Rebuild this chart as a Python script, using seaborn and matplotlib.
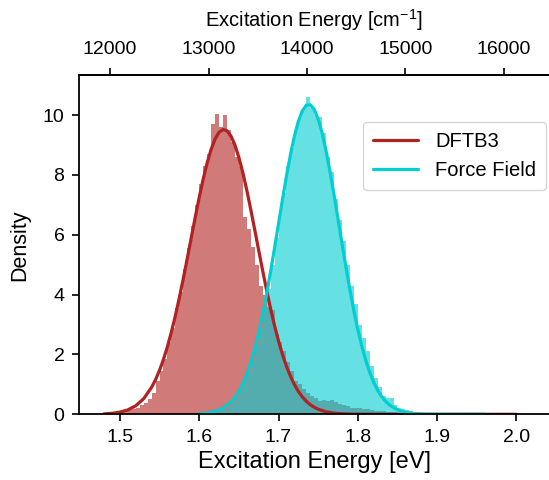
import numpy as np
import pandas as pd
import matplotlib
matplotlib.use("Agg")
import matplotlib.pyplot as plt
import seaborn as sns

sns.set_theme(style="ticks")
plt.rcParams["font.family"] = ["Liberation Sans", "DejaVu Sans"]
plt.rcParams["mathtext.fontset"] = "custom"
plt.rcParams["mathtext.rm"] = "Liberation Sans"
for key in ["text.color", "axes.labelcolor", "xtick.color", "ytick.color",
            "axes.edgecolor"]:
    plt.rcParams[key] = "black"

# ---------------- data ----------------
labels = ["DFTB3", "Force Field"]
bin_width = 0.005

dftb3_bin_start = 1.475
dftb3_hist = [0.02, 0.02, 0.04, 0.05, 0.06, 0.08, 0.10, 0.13, 0.17, 0.22,
              0.30, 0.38, 0.50, 0.72, 1.10, 1.45, 1.85, 2.40, 2.90, 3.55,
              4.10, 4.85, 5.55, 6.30, 7.00, 7.70, 8.30, 8.70, 9.70, 10.05,
              9.60, 10.00, 9.50, 9.10, 8.60, 8.30, 6.60, 6.20, 5.60, 5.00,
              4.30, 4.00, 3.60, 3.50, 2.70, 2.40, 2.10, 1.75, 1.45, 1.10,
              1.00, 0.85, 0.72, 0.60, 0.55, 0.45, 0.47, 0.45, 0.48, 0.40,
              0.35, 0.30, 0.28, 0.22, 0.20, 0.20, 0.18, 0.17, 0.15, 0.12,
              0.10, 0.10, 0.09, 0.08, 0.07, 0.06, 0.05, 0.05, 0.04, 0.03,
              0.03, 0.02, 0.02, 0.01, 0.01, 0.01, 0.0, 0.01, 0.0, 0.0,
              0.0, 0.0, 0.0, 0.0, 0.0, 0.01, 0.0, 0.0, 0.0, 0.0,
              0.0, 0.0, 0.0, 0.0, 0.01]

ff_bin_start = 1.600
ff_hist = [0.01, 0.02, 0.03, 0.05, 0.07, 0.10, 0.16, 0.25, 0.38, 0.55,
           0.80, 1.10, 1.40, 1.80, 2.30, 2.85, 3.60, 4.20, 5.00, 5.90,
           6.70, 7.40, 8.30, 8.90, 9.50, 9.90, 10.20, 10.60, 10.25, 10.00,
           9.95, 9.40, 8.60, 8.10, 7.20, 6.50, 5.80, 5.00, 4.30, 3.70,
           3.00, 2.55, 2.10, 1.60, 1.20, 0.90, 0.62, 0.55, 0.55, 0.30,
           0.22, 0.18, 0.13, 0.10, 0.08, 0.07, 0.05, 0.05, 0.03, 0.03,
           0.02, 0.02, 0.01, 0.01, 0.01, 0.0, 0.01, 0.0, 0.0, 0.0,
           0.01]

dftb3_fit_x = [1.48, 1.49, 1.50, 1.51, 1.52, 1.53, 1.54, 1.545, 1.55, 1.555,
               1.56, 1.565, 1.57, 1.575, 1.58, 1.585, 1.59, 1.595, 1.60, 1.605,
               1.61, 1.615, 1.62, 1.625, 1.63, 1.635, 1.64, 1.645, 1.65, 1.655,
               1.66, 1.665, 1.67, 1.675, 1.68, 1.685, 1.69, 1.695, 1.70, 1.705,
               1.71, 1.715, 1.72, 1.725, 1.73, 1.735, 1.74, 1.745, 1.75, 1.76,
               1.77, 1.78, 1.79, 1.80, 1.85, 1.90, 1.95, 2.00]
dftb3_fit_y = [0.014, 0.033, 0.072, 0.147, 0.285, 0.521, 0.900, 1.158, 1.469, 1.837,
               2.265, 2.753, 3.299, 3.896, 4.538, 5.210, 5.898, 6.582, 7.241, 7.853,
               8.396, 8.851, 9.197, 9.423, 9.517, 9.477, 9.303, 9.003, 8.590, 8.080,
               7.493, 6.849, 6.173, 5.485, 4.805, 4.149, 3.532, 2.965, 2.453, 2.001,
               1.609, 1.276, 0.997, 0.768, 0.584, 0.437, 0.323, 0.235, 0.169, 0.083,
               0.039, 0.017, 0.007, 0.003, 0.0, 0.0, 0.0, 0.0]

ff_fit_x = [1.60, 1.61, 1.62, 1.63, 1.64, 1.645, 1.65, 1.655, 1.66, 1.665,
            1.67, 1.675, 1.68, 1.685, 1.69, 1.695, 1.70, 1.705, 1.71, 1.715,
            1.72, 1.725, 1.73, 1.735, 1.74, 1.745, 1.75, 1.755, 1.76, 1.765,
            1.77, 1.775, 1.78, 1.785, 1.79, 1.795, 1.80, 1.805, 1.81, 1.815,
            1.82, 1.825, 1.83, 1.835, 1.84, 1.85, 1.86, 1.87, 1.88, 1.90,
            1.93, 1.96]
ff_fit_y = [0.017, 0.041, 0.094, 0.203, 0.406, 0.560, 0.760, 1.014, 1.330, 1.717,
            2.178, 2.715, 3.331, 4.017, 4.762, 5.553, 6.365, 7.174, 7.952, 8.667,
            9.288, 9.786, 10.138, 10.329, 10.346, 10.190, 9.869, 9.398, 8.799, 8.101,
            7.334, 6.528, 5.715, 4.918, 4.162, 3.462, 2.832, 2.279, 1.803, 1.402,
            1.072, 0.806, 0.597, 0.433, 0.310, 0.151, 0.068, 0.029, 0.011, 0.0015,
            0.0, 0.0]

top_ticks_cm = [12000, 13000, 14000, 15000, 16000]
y_ticks = [0, 2, 4, 6, 8, 10]
colors = ["firebrick", "darkturquoise"]
EV_TO_CM = 8065.54

# ---------------- figure ----------------
fig = plt.figure(figsize=(5.49, 4.80), dpi=100)
ax = fig.add_axes([79 / 549, 65.7 / 480, 470 / 549, 339 / 480])

for start, heights, col in [(dftb3_bin_start, dftb3_hist, colors[0]),
                            (ff_bin_start, ff_hist, colors[1])]:
    n = len(heights)
    centers = start + bin_width * (np.arange(n) + 0.5)
    df = pd.DataFrame({"x": centers, "w": heights})
    sns.histplot(data=df, x="x", weights="w", binwidth=bin_width,
                 binrange=(start, start + n * bin_width), stat="count",
                 color=col, alpha=0.6, linewidth=0, ax=ax)

sns.lineplot(x=dftb3_fit_x, y=dftb3_fit_y, color=colors[0], lw=2.3,
             label=labels[0], ax=ax)
sns.lineplot(x=ff_fit_x, y=ff_fit_y, color=colors[1], lw=2.3,
             label=labels[1], ax=ax)

ax.set_xlim(1.4485, 2.041)
ax.set_ylim(0, 11.33)
ax.set_yticks(y_ticks)
ax.set_xlabel("Excitation Energy [eV]", fontsize=17, labelpad=4)
ax.set_ylabel("Density", fontsize=15.5, labelpad=9)
ax.tick_params(axis="both", labelsize=14, length=5, width=1.2, pad=5.5,
               color="black", labelcolor="black")
for s in ["left", "bottom", "top"]:
    ax.spines[s].set_visible(True)
    ax.spines[s].set_linewidth(1.3)
    ax.spines[s].set_color("black")
ax.spines["right"].set_visible(False)

sec = ax.secondary_xaxis("top", functions=(lambda e: e * EV_TO_CM,
                                           lambda c: c / EV_TO_CM))
sec.set_xticks(top_ticks_cm)
sec.set_xlabel("Excitation Energy [cm$^{-1}$]", fontsize=14.5, labelpad=10)
sec.tick_params(labelsize=14, length=5, width=1.2, pad=7.5,
                color="black", labelcolor="black")
sec.spines["top"].set_linewidth(1.3)

leg = ax.legend(loc="upper right", bbox_to_anchor=(0.9935, 0.8626),
                borderaxespad=0, fontsize=14.5, frameon=True,
                borderpad=0.5, handlelength=2.2, handletextpad=0.85)
leg.get_frame().set_edgecolor("#cccccc")

fig.savefig("out.png", dpi=100)
